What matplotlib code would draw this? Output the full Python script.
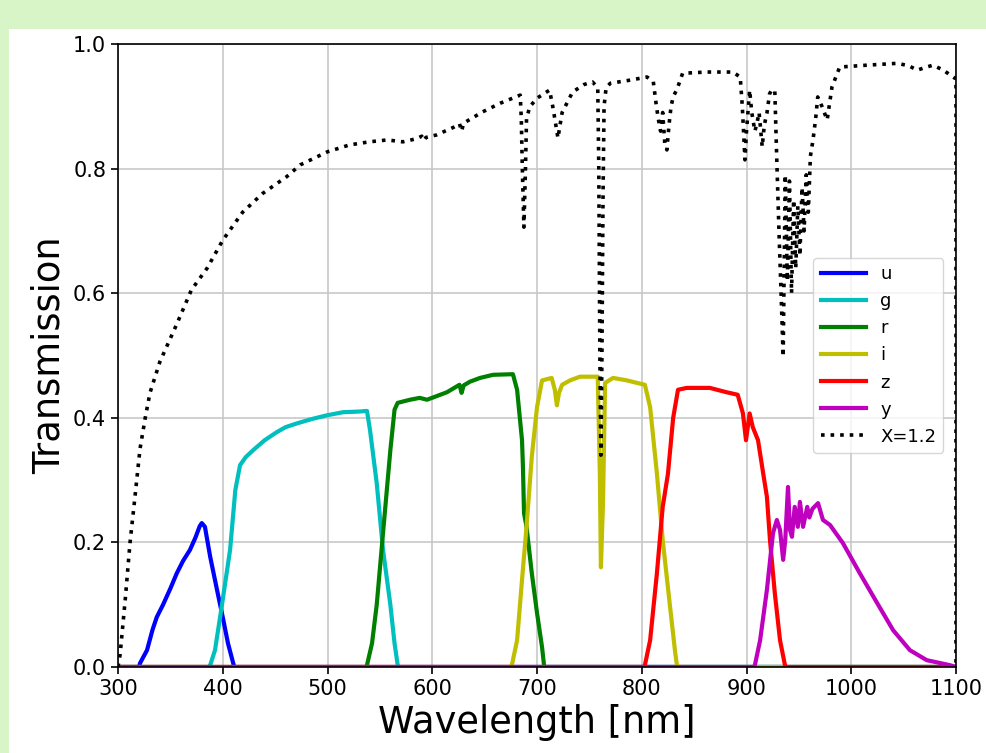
import matplotlib

matplotlib.use("Agg")
import matplotlib.pyplot as plt
from matplotlib.patches import Rectangle

# Filter throughput curves (wavelength in nm, transmission)
u_wl = [300, 320, 321, 327.7, 333, 337, 343, 350, 356, 362, 368.7, 374, 378, 380, 383, 388, 394.5, 400, 405, 410, 411, 1100]
u_tr = [0, 0, 0.006, 0.027, 0.06, 0.08, 0.10, 0.126, 0.15, 0.17, 0.188, 0.208, 0.226, 0.231, 0.225, 0.177, 0.124, 0.08, 0.038, 0.006, 0, 0]

g_wl = [300, 387, 388, 392.6, 399, 407, 412, 416.5, 422, 429, 440, 451.6, 460, 470.8, 485, 499.5, 515, 530, 537.7,
        540.6, 547, 553, 560, 564, 567, 568, 1100]
g_tr = [0, 0, 0.003, 0.027, 0.097, 0.188, 0.284, 0.324, 0.337, 0.348, 0.364, 0.377, 0.385, 0.391, 0.398, 0.404, 0.409, 0.410, 0.411,
        0.38, 0.295, 0.188, 0.10, 0.038, 0.003, 0, 0]

r_wl = [300, 537, 537.7, 542.5, 547, 553, 560, 564, 567, 578.8, 588, 595, 614, 626, 628, 630, 636,
        645.6, 658, 677, 681, 685.7, 686.6, 687.6, 690, 695, 700, 704.8, 706.7, 707, 1100]
r_tr = [0, 0, 0.003, 0.038, 0.10, 0.215, 0.348, 0.413, 0.424, 0.429, 0.432, 0.429, 0.441, 0.453, 0.440, 0.452, 0.458,
        0.464, 0.469, 0.47, 0.445, 0.364, 0.32, 0.247, 0.225, 0.151, 0.087, 0.032, 0.003, 0, 0]

i_wl = [300, 675, 676, 681, 685.7, 690, 695, 700, 704.8, 714, 717, 719, 721, 724, 731.5, 741, 758,
        760, 761, 763, 765, 772.6, 786, 795.5, 803, 808, 814.5, 820, 827, 832, 833.6, 834, 1100]
i_tr = [0, 0, 0.003, 0.043, 0.14, 0.225, 0.337, 0.417, 0.46, 0.464, 0.445, 0.42, 0.44, 0.453, 0.46, 0.466, 0.466,
        0.31, 0.16, 0.263, 0.456, 0.464, 0.46, 0.456, 0.453, 0.417, 0.31, 0.204, 0.097, 0.022, 0.003, 0, 0]

z_wl = [300, 802, 803, 808, 814.5, 820, 825, 830, 834.6, 843, 865, 881, 891.6, 896.6, 899.5, 903,
        906, 911, 916, 919.5, 922.4, 927, 932, 936.7, 937, 1100]
z_tr = [0, 0, 0.003, 0.043, 0.151, 0.257, 0.31, 0.40, 0.445, 0.448, 0.448, 0.441, 0.437, 0.407, 0.364, 0.407,
        0.385, 0.364, 0.31, 0.273, 0.204, 0.119, 0.043, 0.003, 0, 0]

y_wl = [300, 907, 908, 913, 919.5, 925.3, 929, 932, 935, 937, 939.6, 941.5, 943.4, 946, 949, 951, 954,
        958, 960, 963, 968.3, 973, 979.7, 992, 1008, 1024.6, 1040, 1056, 1072, 1094, 1100]
y_tr = [0, 0, 0.003, 0.043, 0.124, 0.215, 0.236, 0.22, 0.172, 0.204, 0.289, 0.22, 0.209, 0.257, 0.225, 0.265, 0.225,
        0.257, 0.24, 0.254, 0.263, 0.236, 0.228, 0.199, 0.151, 0.103, 0.059, 0.027, 0.011, 0.003, 0]

# Atmospheric transmission at airmass 1.2
atm_wl = [300, 302, 307, 311.5, 316, 321, 326, 330.5, 340, 356, 370, 385, 400, 419, 438, 461, 474,
          500, 521, 540, 557, 572, 585, 590, 592, 594, 604, 620, 626, 628, 630, 648, 665, 684,
          685, 686, 687.5, 689, 690, 693, 700, 712, 715, 717, 720, 722, 724, 727, 734, 745, 753,
          758, 759, 760, 761, 762, 763, 764, 766, 770, 789, 805, 811, 814, 816, 818, 820, 822,
          824, 826, 828, 830, 834, 839, 862, 887, 894, 896, 898.5, 900, 903, 905, 908, 910, 912,
          915, 917, 919.5, 922, 924, 927, 929, 931, 933, 935, 937, 939, 941, 943, 945, 947, 949,
          951, 953, 955, 957, 959, 961, 963.5, 966, 968, 972, 977, 981.6, 989, 1015, 1044, 1055,
          1063, 1070, 1078, 1083, 1088, 1093, 1099, 1100, 1100]
atm_tr = [0.0, 0.02, 0.11, 0.20, 0.27, 0.35, 0.40, 0.44, 0.49, 0.55, 0.605, 0.64, 0.685, 0.73, 0.76, 0.787, 0.806,
          0.827, 0.838, 0.843, 0.846, 0.843, 0.848, 0.852, 0.845, 0.850, 0.854, 0.866, 0.872, 0.860, 0.873, 0.891, 0.905, 0.918,
          0.88, 0.80, 0.706, 0.80, 0.88, 0.899, 0.913, 0.926, 0.90, 0.88, 0.849, 0.87, 0.89, 0.90, 0.923, 0.935, 0.939,
          0.93, 0.80, 0.50, 0.34, 0.50, 0.75, 0.90, 0.93, 0.937, 0.942, 0.947, 0.94, 0.90, 0.878, 0.86, 0.89, 0.84,
          0.83, 0.87, 0.90, 0.915, 0.929, 0.953, 0.955, 0.955, 0.947, 0.90, 0.814, 0.86, 0.926, 0.89, 0.86, 0.873, 0.89,
          0.835, 0.87, 0.889, 0.92, 0.926, 0.926, 0.809, 0.70, 0.60, 0.498, 0.79, 0.62, 0.78, 0.60, 0.75, 0.64, 0.74,
          0.66, 0.77, 0.70, 0.79, 0.73, 0.82, 0.846, 0.88, 0.915, 0.90, 0.878, 0.931, 0.963, 0.966, 0.969, 0.965,
          0.958, 0.962, 0.966, 0.962, 0.958, 0.952, 0.945, 0.945, 0.0]

bands = ["u", "g", "r", "i", "z", "y"]
band_colors = ["b", "c", "g", "y", "r", "m"]
band_curves = [(u_wl, u_tr), (g_wl, g_tr), (r_wl, r_tr), (i_wl, i_tr), (z_wl, z_tr), (y_wl, y_tr)]

fig = plt.figure(figsize=(9.86, 7.53), dpi=100, facecolor="#d8f5c8")
# white card behind the plot
fig.patches.append(Rectangle((9 / 986, 0), 1 - 9 / 986, 1 - 29 / 753,
                             transform=fig.transFigure, facecolor="white", edgecolor="none", zorder=-10))

ax = fig.add_axes([118 / 986, 86 / 753, 838 / 986, 623 / 753])

for band, color, (wl, tr) in zip(bands, band_colors, band_curves):
    ax.plot(wl, tr, color=color, lw=3, label=band, solid_joinstyle="round")
ax.plot(atm_wl, atm_tr, "k:", lw=2.6, label="X=1.2")

ax.set_xlim(300, 1100)
ax.set_ylim(0, 1.0)
ax.set_xticks(range(300, 1101, 100))
ax.set_yticks([0.0, 0.2, 0.4, 0.6, 0.8, 1.0])
ax.yaxis.set_major_formatter(plt.FormatStrFormatter("%.1f"))
ax.tick_params(labelsize=15, length=5, width=1.2)
for spine in ax.spines.values():
    spine.set_linewidth(1.2)
ax.grid(True, color="#c8c8c8", lw=1.2)

ax.set_xlabel("Wavelength [nm]", fontsize=26.5)
ax.set_ylabel("Transmission", fontsize=26.5)

ax.legend(loc="center right", fontsize=13, handlelength=2.5, borderaxespad=0.7)

fig.savefig("out.png", dpi=100, facecolor=fig.get_facecolor())
